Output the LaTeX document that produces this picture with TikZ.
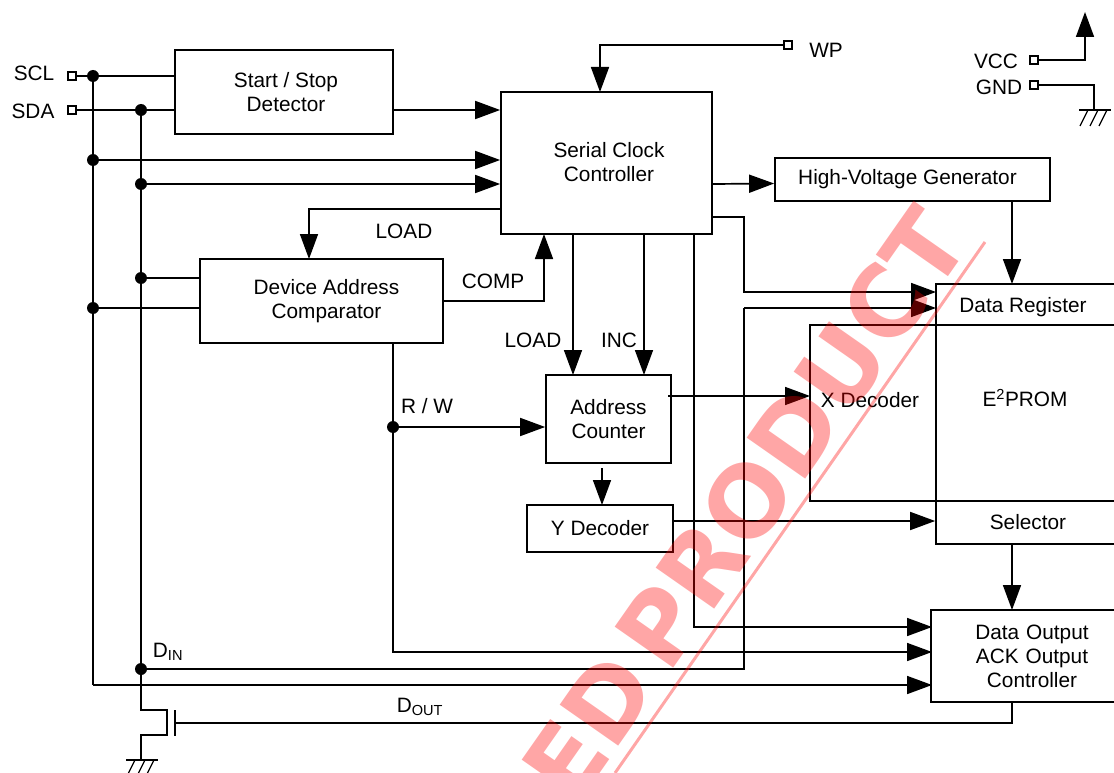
\documentclass[tikz,border=0pt]{standalone}
\usepackage{fontspec}
\setmainfont{Liberation Sans}
\newfontfamily\stampfont{DejaVu Sans}
\usetikzlibrary{arrows.meta}
\tikzset{
  blockbox/.style={draw, line width=1.7pt, fill=none, align=center, inner sep=0pt},
  wire/.style={draw, line width=1.7pt, line join=miter},
  wirearrow/.style={wire, -{Triangle[length=25pt,width=18pt]}},
  jdot/.style={circle, fill=black, inner sep=0pt, minimum size=12pt},
  pinbox/.style={draw, fill=white, line width=1.3pt, inner sep=0pt, minimum size=8pt},
  gndmark/.pic={
    \draw[line width=1.3pt] (-15,0) -- (17,0);
    \foreach \hx in {-6,4,13} \draw[line width=1.3pt] (\hx,0) -- ++(-8,16);
  }
}
\begin{document}
\begin{tikzpicture}[x=1pt, y=-1pt, font=\fontsize{20.8pt}{24pt}\selectfont]
  \useasboundingbox (0,0) rectangle (1114,773);
  \clip (0,0) rectangle (1114,773);
  \definecolor{stampred}{RGB}{255,0,0}
  % blocks
  \node[blockbox, minimum width=218pt, minimum height=84pt] (startdet) at (284,92) {\hspace*{4pt}Start / Stop\\\hspace*{4pt}Detector};
  \node[blockbox, minimum width=211pt, minimum height=142pt] (serialctl) at (606.5,163) {\hspace*{5pt}\raisebox{2pt}{Serial Clock}\\\hspace*{5pt}\raisebox{2pt}{Controller}};
  \node[blockbox, minimum width=275pt, minimum height=43pt] (hvgen) at (912.5,179.5) {\hspace*{-10pt}\raisebox{-2pt}{High-Voltage Generator}};
  \node[blockbox, minimum width=243pt, minimum height=84pt] (devcomp) at (321.5,301) {\hspace*{10pt}Device Address\\\hspace*{10pt}Comparator};
  \node[blockbox, minimum width=125pt, minimum height=88pt] (addrcnt) at (608.5,419) {Address\\Counter};
  \node[blockbox, minimum width=146pt, minimum height=47pt] (ydec) at (600,528.5) {\raisebox{-2pt}{Y Decoder}};
  \node[blockbox, minimum width=200pt, minimum height=41pt] (datareg) at (1036,304.5) {};
  \node[blockbox, minimum width=200pt, minimum height=176pt] (eeprom) at (1036,413) {};
  \node[blockbox, minimum width=126pt, minimum height=176pt] (xdec) at (873,413) {};
  \node[blockbox, minimum width=200pt, minimum height=43pt] (selector) at (1036,522.5) {};
  \node[blockbox, minimum width=200pt, minimum height=92pt, text width=202pt] (dataout) at (1032,656) {Data Output\\ACK Output\\Controller};
  \node (xdeclbl) at (870,400) {X Decoder};
  \node (dreglbl) at (1023,307) {Data Register};
  \node (eepromlbl) at (1025,398) {E\textsuperscript{2}PROM};
  \node (sellbl) at (1028,522) {Selector};
  % pins
  \node[pinbox] (sclpin) at (72,76) {};
  \node[pinbox] (sdapin) at (72,110) {};
  \node[pinbox] (wppin) at (788,45) {};
  \node[pinbox] (vccpin) at (1034,60) {};
  \node[pinbox] (gndpin) at (1034,85) {};
  \node (scllbl) at (34,73) {SCL};
  \node (sdalbl) at (33,111) {SDA};
  \node (wplbl) at (826,50) {WP};
  \node (vcclbl) at (996,61) {VCC};
  \node (gndlbl) at (999,87) {GND};
  % junctions
  \node[jdot] (sclj) at (93,76) {};
  \node[jdot] (sclb) at (93,160) {};
  \node[jdot] (sclc) at (93,308) {};
  \node[jdot] (sdaj) at (141,110) {};
  \node[jdot] (sdab) at (141,184) {};
  \node[jdot] (sdac) at (141,278) {};
  \node[jdot] (sdad) at (141,669) {};
  \node[jdot] (rwj) at (393,427) {};
  \coordinate (sclend) at (93,685);
  \coordinate (gatein) at (176,723);
  % inputs
  \draw[wire] (sclpin) -- (sclj) -- ([yshift=16pt]startdet.west);
  \draw[wire] (sdapin) -- (sdaj) -- ([yshift=-18pt]startdet.west);
  \draw[wire] (sclj) -- (sclb) -- (sclc) -- (sclend);
  \draw[wire] (sdaj) -- (sdab) -- (sdac) -- (sdad);
  \draw[wirearrow] ([yshift=-18pt]startdet.east) -- ([yshift=53pt]serialctl.west);
  \draw[wirearrow] (sclb) -- (sclb -| serialctl.west);
  \draw[wirearrow] (sdab) -- (sdab -| serialctl.west);
  \draw[wire] (sdac) -- (sdac -| devcomp.west);
  \draw[wire] (sclc) -- (sclc -| devcomp.west);
  \draw[wirearrow] (wppin) -| (600,92);
  % serial clock controller
  \draw[wirearrow] ([yshift=-21pt]serialctl.east) -- ([yshift=-4pt]hvgen.west);
  \draw[wirearrow] (1012,201) -- (1012,284);
  \draw[wirearrow] ([yshift=-54pt]serialctl.east) -| (744,292) -- (936,292);
  \draw[wirearrow] (501,209) -| (309,259);
  \draw[wirearrow] (devcomp.east) -| (544,234);
  \draw[wirearrow] (573,234) -- (573,375);
  \draw[wirearrow] (644,234) -- (644,375);
  \draw[wirearrow] (694,234) |- (932,627);
  % address paths
  \draw[wirearrow] (393,343) |- (932,652);
  \draw[wirearrow] (rwj) -- (rwj -| addrcnt.west);
  \draw[wirearrow] (668,396) -- (810,396);
  \draw[wirearrow] (602,468) -- (602,505);
  \draw[wirearrow] ([yshift=7.5pt]ydec.east) -- ([yshift=1.5pt]selector.west);
  \draw[wirearrow] (1012,544) -- (1012,610);
  % data paths
  \draw[wire] (sdad) -- (744,669) -- (744,308);
  \draw[wirearrow] (744,308) -- (936,308);
  \draw[wirearrow] (sclend) -- (932,685);
  \draw[wire] (1012,702) |- (gatein);
  % transistor
  \draw[wire] (sdad) -- (141,710) -- (167,710) -- (167,735) -- (141,735) -- (141,760) coordinate (gndb);
  \draw[wire] (175,710) -- (175,736);
  \pic at (gndb) {gndmark};
  % supply
  \draw[line width=1.7pt, -{Triangle[length=25pt,width=18pt]}] (vccpin) -| (1085,12);
  \draw[line width=1.3pt] (gndpin) -| (1094,110) coordinate (gndt);
  \pic at (gndt) {gndmark};
  % labels
  \node (loadlbla) at (404,231) {LOAD};
  \node (complbl) at (493,281) {COMP};
  \node (loadlblb) at (533,340) {LOAD};
  \node (inclbl) at (619,340) {INC};
  \node (rwlbl) at (427,406) {R / W};
  \node (dinlbl) at (168,652) {D\textsubscript{IN}};
  \node (doutlbl) at (420,707) {D\textsubscript{OUT}};
  % stamp
  \node[rotate=55, anchor=base, text=stampred, opacity=.35, font=\stampfont\fontsize{98pt}{98pt}\selectfont\bfseries] (stamp) at (774,525) {ED\kern-20pt{} PRODUCT};
  \draw[stampred, opacity=.35, line width=3pt] (985,242) -- (615,773);
\end{tikzpicture}
\end{document}
